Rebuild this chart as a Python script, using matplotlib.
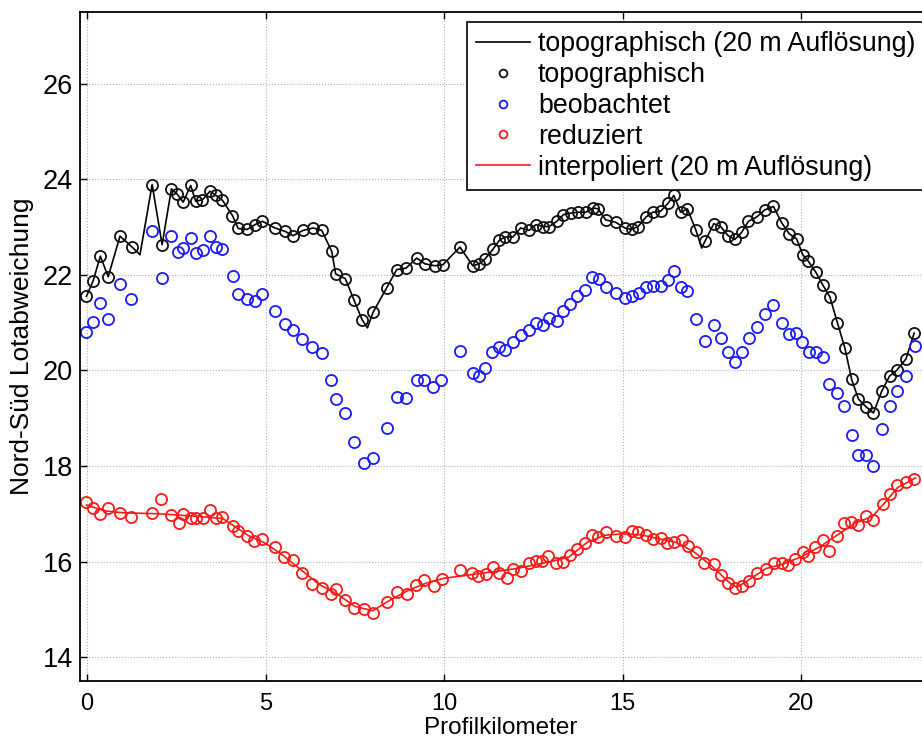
import numpy as np
import matplotlib
matplotlib.use('Agg')
import matplotlib.pyplot as plt

plt.rcParams['font.family'] = ['Liberation Sans', 'DejaVu Sans']

# topographische Lotabweichung an den Stationen
topo_x = [-0.02, 0.17, 0.37, 0.59, 0.92, 1.26, 1.82, 2.10, 2.36, 2.52, 2.69, 2.90, 3.04, 3.23,
          3.44, 3.61, 3.79, 4.07, 4.23, 4.48, 4.70, 4.91, 5.26, 5.54, 5.77, 6.05, 6.33, 6.57,
          6.85, 6.96, 7.23, 7.47, 7.70, 8.01, 8.39, 8.67, 8.93, 9.23, 9.46, 9.74, 9.96, 10.44,
          10.80, 10.98, 11.14, 11.36, 11.54, 11.70, 11.92, 12.14, 12.38, 12.57, 12.78, 12.94,
          13.15, 13.34, 13.54, 13.75, 13.97, 14.17, 14.31, 14.52, 14.80, 15.06, 15.25, 15.43,
          15.65, 15.84, 16.06, 16.27, 16.43, 16.62, 16.81, 17.05, 17.30, 17.55, 17.74, 17.95,
          18.14, 18.33, 18.52, 18.75, 18.98, 19.22, 19.45, 19.66, 19.87, 20.04, 20.20, 20.41,
          20.60, 20.80, 21.01, 21.22, 21.41, 21.60, 21.81, 22.02, 22.25, 22.47, 22.67, 22.93,
          23.16]
topo_y = [21.55, 21.88, 22.39, 21.96, 22.81, 22.58, 23.89, 22.63, 23.80, 23.69, 23.52, 23.87,
          23.54, 23.57, 23.75, 23.66, 23.56, 23.24, 22.97, 22.95, 23.05, 23.12, 22.98, 22.91,
          22.82, 22.93, 22.98, 22.93, 22.49, 22.02, 21.92, 21.48, 21.06, 21.22, 21.73, 22.11,
          22.14, 22.35, 22.23, 22.19, 22.21, 22.58, 22.19, 22.23, 22.33, 22.53, 22.72, 22.79,
          22.79, 22.98, 22.93, 23.05, 23.01, 23.01, 23.12, 23.26, 23.29, 23.31, 23.31, 23.40,
          23.38, 23.15, 23.10, 22.98, 22.95, 23.01, 23.21, 23.31, 23.33, 23.50, 23.66, 23.31,
          23.38, 22.93, 22.70, 23.07, 23.01, 22.82, 22.74, 22.89, 23.12, 23.21, 23.36, 23.43,
          23.09, 22.86, 22.75, 22.42, 22.28, 22.05, 21.79, 21.54, 21.00, 20.47, 19.81, 19.40,
          19.24, 19.11, 19.56, 19.88, 20.00, 20.24, 20.78]

# zusaetzliche Stuetzpunkte der 20 m Linie
topo_extra_x = [1.48, 7.85, 17.21]
topo_extra_y = [22.42, 20.89, 22.56]

beob_x = [-0.02, 0.17, 0.36, 0.59, 0.92, 1.24, 1.82, 2.10, 2.36, 2.55, 2.69, 2.90, 3.04, 3.25,
          3.44, 3.61, 3.79, 4.09, 4.23, 4.48, 4.70, 4.91, 5.26, 5.54, 5.77, 6.03, 6.31, 6.57,
          6.83, 6.97, 7.22, 7.47, 7.75, 8.01, 8.39, 8.67, 8.93, 9.23, 9.44, 9.69, 9.91, 10.44,
          10.80, 10.98, 11.14, 11.33, 11.54, 11.70, 11.92, 12.14, 12.38, 12.57, 12.78, 12.94,
          13.15, 13.34, 13.52, 13.73, 13.94, 14.13, 14.34, 14.53, 14.80, 15.06, 15.25, 15.46,
          15.65, 15.84, 16.06, 16.27, 16.43, 16.62, 16.81, 17.05, 17.30, 17.55, 17.74, 17.95,
          18.14, 18.33, 18.54, 18.75, 18.98, 19.22, 19.45, 19.66, 19.85, 20.03, 20.22, 20.42,
          20.61, 20.78, 21.01, 21.20, 21.41, 21.60, 21.81, 22.02, 22.25, 22.48, 22.69, 22.93,
          23.18]
beob_y = [20.80, 21.01, 21.40, 21.08, 21.81, 21.50, 22.92, 21.93, 22.81, 22.47, 22.56, 22.77,
          22.46, 22.51, 22.82, 22.58, 22.53, 21.98, 21.59, 21.50, 21.45, 21.59, 21.24, 20.97,
          20.84, 20.66, 20.49, 20.37, 19.79, 19.41, 19.10, 18.50, 18.06, 18.17, 18.80, 19.45,
          19.43, 19.80, 19.80, 19.65, 19.80, 20.40, 19.95, 19.88, 20.05, 20.38, 20.49, 20.42,
          20.59, 20.75, 20.85, 20.99, 20.96, 21.10, 21.03, 21.24, 21.38, 21.55, 21.68, 21.96,
          21.91, 21.74, 21.62, 21.52, 21.56, 21.61, 21.75, 21.77, 21.77, 21.90, 22.07, 21.75,
          21.66, 21.08, 20.61, 20.94, 20.68, 20.38, 20.18, 20.38, 20.68, 20.91, 21.17, 21.36,
          21.00, 20.76, 20.78, 20.59, 20.38, 20.38, 20.27, 19.72, 19.53, 19.25, 18.64, 18.22,
          18.22, 17.99, 18.78, 19.26, 19.56, 19.88, 20.50]

red_x = [-0.02, 0.17, 0.37, 0.59, 0.92, 1.24, 1.82, 2.08, 2.36, 2.58, 2.69, 2.90, 3.06, 3.25,
         3.44, 3.61, 3.79, 4.09, 4.23, 4.48, 4.67, 4.89, 5.26, 5.51, 5.77, 6.03, 6.31, 6.57,
         6.82, 6.97, 7.22, 7.47, 7.75, 8.01, 8.39, 8.67, 8.95, 9.21, 9.43, 9.71, 9.93, 10.44,
         10.77, 10.95, 11.17, 11.36, 11.54, 11.75, 11.93, 12.14, 12.38, 12.57, 12.73, 12.91,
         13.13, 13.34, 13.52, 13.73, 13.94, 14.13, 14.31, 14.53, 14.81, 15.06, 15.25, 15.43,
         15.65, 15.84, 16.06, 16.24, 16.43, 16.65, 16.83, 17.05, 17.27, 17.55, 17.74, 17.95,
         18.14, 18.33, 18.54, 18.75, 19.01, 19.23, 19.45, 19.64, 19.82, 20.04, 20.20, 20.38,
         20.60, 20.78, 21.01, 21.20, 21.38, 21.60, 21.81, 22.02, 22.28, 22.48, 22.69, 22.93,
         23.16]
red_y = [17.24, 17.12, 17.00, 17.12, 17.02, 16.93, 17.02, 17.31, 16.98, 16.81, 17.00, 16.91,
         16.91, 16.91, 17.07, 16.91, 16.94, 16.75, 16.63, 16.54, 16.42, 16.47, 16.31, 16.10,
         16.03, 15.75, 15.54, 15.45, 15.33, 15.43, 15.19, 15.03, 15.00, 14.93, 15.15, 15.36,
         15.33, 15.50, 15.61, 15.48, 15.64, 15.82, 15.76, 15.69, 15.74, 15.89, 15.76, 15.66,
         15.84, 15.80, 15.96, 16.01, 16.01, 16.11, 15.96, 15.99, 16.13, 16.27, 16.39, 16.56,
         16.52, 16.61, 16.53, 16.52, 16.63, 16.61, 16.56, 16.47, 16.50, 16.38, 16.40, 16.45,
         16.32, 16.19, 15.96, 15.94, 15.71, 15.55, 15.45, 15.48, 15.59, 15.76, 15.85, 15.96,
         15.96, 15.92, 16.06, 16.19, 16.11, 16.31, 16.45, 16.22, 16.54, 16.81, 16.82, 16.77,
         16.95, 16.86, 17.21, 17.42, 17.61, 17.66, 17.73]

interp_x = [-0.02, 0.5, 1.0, 2.0, 3.0, 3.8, 4.5, 5.0, 5.5, 6.0, 6.5, 7.0, 7.5, 8.0, 8.5, 9.0,
            9.5, 10.0, 11.0, 12.0, 13.0, 13.5, 14.0, 14.5, 15.0, 15.5, 16.0, 16.5, 17.0, 17.5,
            18.0, 18.2, 18.7, 19.0, 19.5, 20.0, 20.5, 21.0, 21.5, 22.0, 22.3, 22.7, 23.2]
interp_y = [17.18, 17.06, 17.02, 17.00, 16.95, 16.90, 16.55, 16.38, 16.12, 15.82, 15.52, 15.32,
            15.06, 14.97, 15.20, 15.40, 15.55, 15.65, 15.75, 15.85, 16.00, 16.10, 16.40, 16.55,
            16.58, 16.56, 16.48, 16.40, 16.20, 15.90, 15.55, 15.46, 15.70, 15.85, 15.95, 16.10,
            16.30, 16.55, 16.80, 16.95, 17.20, 17.55, 17.75]

# Linie mit 20 m Aufloesung: Stationen plus Zwischenpunkte
line_x = np.concatenate([topo_x, topo_extra_x])
line_y = np.concatenate([topo_y, topo_extra_y])
order = np.argsort(line_x)
line_x = line_x[order]
line_y = line_y[order]

fig = plt.figure(figsize=(9.22, 7.44), dpi=100)
ax = fig.add_axes([80 / 922, 63 / 744, 842 / 922, 669 / 744])

ms = 8
mew = 1.3
ax.plot(line_x, line_y, color='k', lw=1.2, label='topographisch (20 m Auflösung)')
ax.plot(topo_x, topo_y, 'o', mfc='none', mec='#111111', ms=ms, mew=mew, label='topographisch')
ax.plot(beob_x, beob_y, 'o', mfc='none', mec='#1a1aff', ms=ms, mew=mew, label='beobachtet')
ax.plot(red_x, red_y, 'o', mfc='none', mec='#ff1a1a', ms=ms, mew=mew, label='reduziert')
ax.plot(interp_x, interp_y, color='#ff1a1a', lw=1.2, label='interpoliert (20 m Auflösung)')

ax.set_xlim(-0.2, 23.38)
ax.set_ylim(13.5, 27.5)
ax.set_xticks([0, 5, 10, 15, 20])
ax.set_yticks([14, 16, 18, 20, 22, 24, 26])
ax.grid(True, linestyle=':', color='#b0b0b0', linewidth=0.8)
ax.tick_params(direction='in', length=5, width=1.0, top=True, right=False)
ax.tick_params(axis='x', labelsize=17, pad=9)
ax.tick_params(axis='y', labelsize=19.5, pad=5)
ax.spines['right'].set_visible(False)
for s in ['left', 'bottom', 'top']:
    ax.spines[s].set_linewidth(1.3)

ax.set_xlabel('Profilkilometer', fontsize=17.5, labelpad=1)
ax.set_ylabel('Nord-Süd Lotabweichung', fontsize=19, labelpad=6)

# Legende ragt rechts ueber den Bildrand hinaus (wie im Original abgeschnitten)
leg = ax.legend(loc='upper left', bbox_to_anchor=(467 / 922, 1 - 22 / 744, 470 / 922, 0),
                bbox_transform=fig.transFigure, mode='expand', fontsize=19.3, frameon=True,
                fancybox=False, edgecolor='k', framealpha=1, handlelength=2.0,
                handletextpad=0.3, labelspacing=0.18, borderpad=0.35, borderaxespad=0,
                markerscale=0.7)
leg.get_frame().set_linewidth(1.2)

fig.savefig('out.png', dpi=100)
